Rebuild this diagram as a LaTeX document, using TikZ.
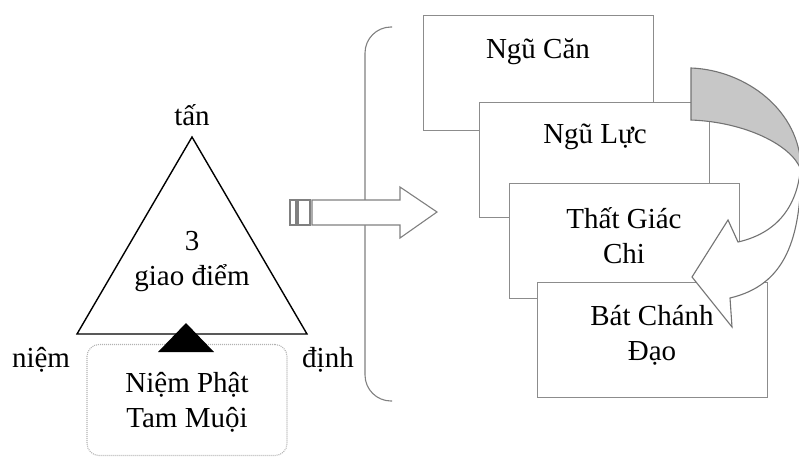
\documentclass[tikz,border=0pt]{standalone}
\usepackage{fontspec}
\setmainfont{Liberation Serif}
\usetikzlibrary{positioning}

\begin{document}
\begin{tikzpicture}
		[x=1pt, y=-1pt,
		word/.style ={font=\fontsize{29}{35}\selectfont, inner sep=0pt, align=center, anchor=base},
		card/.style ={rectangle, draw=black!45, line width=1.1pt, fill=white, minimum width=230pt, minimum height=115pt, anchor=north west},
		frame/.style ={rectangle, draw=black!30, line width=1.1pt, dash pattern=on 1pt off 1pt, rounded corners=12pt, minimum width=200pt, minimum height=111pt},
		rim/.style ={draw=black!50, line width=1.1pt},
		]

		\useasboundingbox (0,0) rectangle (799,458);

		\draw[rim, rounded corners=26pt] (392,27) -- (365,27) -- (365,401) -- (392,401);

		\draw (423,15) node[card] (C1) {};
		\draw (479,102) node[card] (C2) {};
		\draw (509,183) node[card] (C3) {};
		\draw (537,282) node[card] (C4) {};

		\filldraw[rim, draw=black!55, fill=black!22]
		(691,68) .. controls (745,70) and (801,110) .. (801,170)
		.. controls (792,145) and (745,122) .. (691,120) -- cycle;
		\filldraw[rim, draw=black!55, fill=white]
		(801,160) .. controls (802,240) and (785,285) .. (730,298)
		-- (732,327) -- (692,277) -- (728,220) -- (738,242)
		.. controls (782,232) and (800,200) .. (801,160) -- cycle;

		\draw (538,58) node[word] (T1) {Ngũ Căn};
		\draw (595,143) node[word] (T2) {Ngũ Lực};
		\draw (624,263) node[word] (T3) {Thất Giác\\Chi};
		\draw (652,360) node[word] (T4) {Bát Chánh\\Đạo};

		\filldraw[rim, fill=white] (290,200) rectangle (296,225);
		\filldraw[rim, fill=white] (298,200) rectangle (310,225);
		\filldraw[rim, fill=white] (312,200) -- (400,200) -- (400,187) -- (437,212)
		-- (400,238) -- (400,225) -- (312,225) -- cycle;

		\coordinate (A1) at (192,137);
		\coordinate (A2) at (77,334);
		\coordinate (A3) at (307,334);
		\draw[line width=1.4pt, line join=miter] (A1) -- (A2) -- (A3) -- cycle;

		\draw (192,125) node[word] (V1) {tấn};
		\draw (41,367) node[word] (V2) {niệm};
		\draw (328,367) node[word] (V3) {định};
		\draw (192,285) node[word] (G) {3\\giao điểm};

		\draw (187,400) node[frame] (NP) {};
		\fill (186,323) -- (158,352) -- (214,352) -- cycle;
		\draw (187,427) node[word] (NT) {Niệm Phật\\Tam Muội};

	\end{tikzpicture}
\end{document}
